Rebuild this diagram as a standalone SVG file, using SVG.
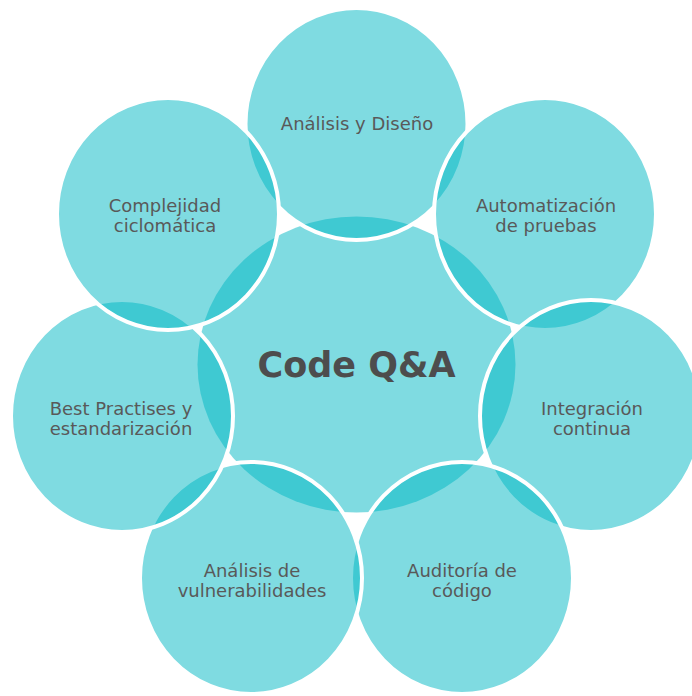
<svg xmlns="http://www.w3.org/2000/svg" width="692" height="696" viewBox="0 0 692 696">
  <style>
    .bg { fill: #ffffff; }
    .hub { fill: #00b7c3; fill-opacity: 0.5; }
    .sat { fill: #00b7c3; fill-opacity: 0.5; stroke: #ffffff; stroke-width: 4; }
    .lbl { font-family: "DejaVu Sans", "Liberation Sans", sans-serif; font-size: 18px; fill: #595959; text-anchor: middle; }
    .hubtxt { font-family: "DejaVu Sans", "Liberation Sans", sans-serif; font-size: 35px; font-weight: bold; fill: #4d4d4d; text-anchor: middle; }
  </style>
  <rect class="bg" x="0" y="0" width="692" height="696"/>
  <g id="center">
    <ellipse class="hub" cx="356.5" cy="364.5" rx="159" ry="148"/>
  </g>
  <g id="analisis-diseno">
    <ellipse class="sat" cx="356.5" cy="124" rx="111" ry="116"/>
  </g>
  <g id="automatizacion">
    <ellipse class="sat" cx="545" cy="214" rx="111" ry="116"/>
  </g>
  <g id="integracion">
    <ellipse class="sat" cx="591" cy="416" rx="111" ry="116"/>
  </g>
  <g id="auditoria">
    <ellipse class="sat" cx="462" cy="578" rx="111" ry="116"/>
  </g>
  <g id="vulnerabilidades">
    <ellipse class="sat" cx="251" cy="578" rx="111" ry="116"/>
  </g>
  <g id="best-practises">
    <ellipse class="sat" cx="122" cy="416" rx="111" ry="116"/>
  </g>
  <g id="complejidad">
    <ellipse class="sat" cx="168" cy="214" rx="111" ry="116"/>
  </g>
  <g id="labels">
    <text class="hubtxt" x="356.5" y="377">Code Q&amp;A</text>
    <text class="lbl" x="357" y="130">Análisis y Diseño</text>
    <text class="lbl" x="546" y="212">Automatización</text>
    <text class="lbl" x="546" y="232">de pruebas</text>
    <text class="lbl" x="592" y="415">Integración</text>
    <text class="lbl" x="592" y="435">continua</text>
    <text class="lbl" x="462" y="577">Auditoría de</text>
    <text class="lbl" x="462" y="597">código</text>
    <text class="lbl" x="252" y="577">Análisis de</text>
    <text class="lbl" x="252" y="597">vulnerabilidades</text>
    <text class="lbl" x="121" y="415">Best Practises y</text>
    <text class="lbl" x="121" y="435">estandarización</text>
    <text class="lbl" x="165" y="212">Complejidad</text>
    <text class="lbl" x="165" y="232">ciclomática</text>
  </g>
</svg>
